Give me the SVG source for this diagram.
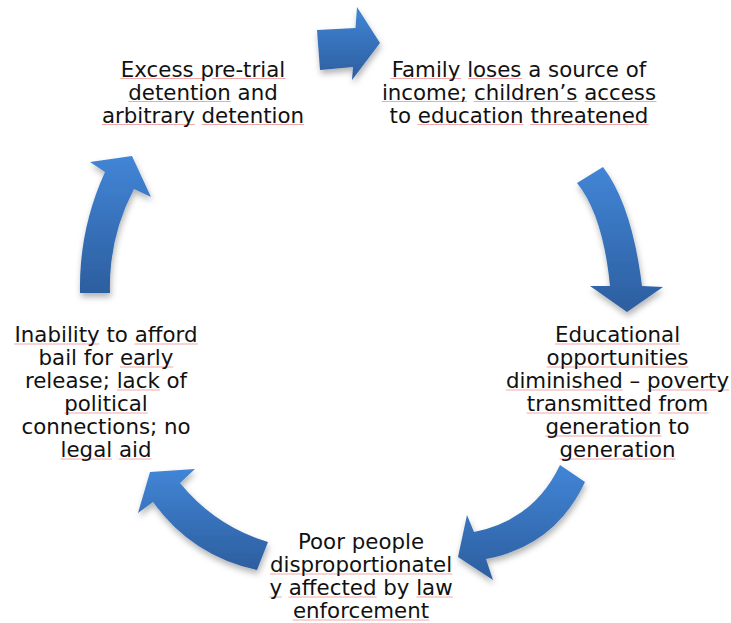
<svg xmlns="http://www.w3.org/2000/svg" width="731" height="623" viewBox="0 0 731 623">
<defs>
<linearGradient id="blue" x1="0" y1="0" x2="0" y2="1">
<stop offset="0" stop-color="#4285d6"/>
<stop offset="1" stop-color="#2c5e9f"/>
</linearGradient>
<filter id="sh" x="-30%" y="-30%" width="160%" height="160%">
<feDropShadow dx="1" dy="4" stdDeviation="3" flood-color="#000" flood-opacity="0.3"/>
</filter>
<style>
.arrow{fill:url(#blue);filter:url(#sh)}
.lbl{font-family:"DejaVu Sans",Verdana,sans-serif;font-size:21.33px;fill:#111;text-anchor:middle}
.sp{stroke:#f2a8a8;stroke-width:1;fill:none}
</style>
</defs>
<rect width="731" height="623" fill="#fff"/>
<g id="connectors">
<path class="arrow" d="M317,30 L355.5,28 L357,7 L380,43 L352,80 L353,67 L320,70 Z"/>
<path class="arrow" d="M577,183 L603,167 Q632,205 642,286 L663,287 L627,312 L590,286 L610,286 Q603,215 577,183 Z"/>
<path class="arrow" d="M560,465 L585,482 Q555,546 486,559 L493,580 L458,557 L467,515 L474,532 Q534,520 560,465 Z"/>
<path class="arrow" d="M268,542 L257,570 Q192,556 153,502 L138,513 L150,472 L195,469 L180,483 Q215,526 268,542 Z"/>
<path class="arrow" d="M80,293 Q78.7,229.7 105,172 L90,162 L132,156 L151,197 L134,189 Q108.4,237.8 110,293 Z"/>
</g>
<g id="proofing" class="sp">
<path d="M120.4,78.5H205.3M212.1,78.5H285.6M128.3,101.5H230.8M101.9,124.5H194.8M201.6,124.5H304.1"/>
<path d="M390.5,78.5H461.1M467.9,78.5H522.2M381.7,101.5H467M473.8,101.5H577.8M584.6,101.5H656.5M417.5,124.5H523.4M530.2,124.5H648.7"/>
<path d="M554.9,344H680.1M546.6,367H688.4M505.9,390H622.8M647,390H729.1M526.6,413H651.5M658.3,413H708.4M545.4,436H661.4M559.5,459H675.5"/>
<path d="M269.7,574H452.3M269.2,597H281.8M288.6,597H376.6M416.4,597H452.9M292.7,620H429.3"/>
<path d="M14.2,344H99.4M134.4,344H197.9M119.9,367H173.4M116.9,390H160M64.3,413H147.8M60.5,459H112.1M118.9,459H151.5"/>
</g>
<g id="node-detention">
<text class="lbl" x="203" y="76.5">Excess pre-trial</text>
<text class="lbl" x="203" y="99.5">detention and</text>
<text class="lbl" x="203" y="122.5">arbitrary detention</text>
</g>
<g id="node-family">
<text class="lbl" x="519" y="76.5">Family loses a source of</text>
<text class="lbl" x="519" y="99.5">income; children’s access</text>
<text class="lbl" x="519" y="122.5">to education threatened</text>
</g>
<g id="node-education">
<text class="lbl" x="617.5" y="342">Educational</text>
<text class="lbl" x="617.5" y="365">opportunities</text>
<text class="lbl" x="617.5" y="388">diminished – poverty</text>
<text class="lbl" x="617.5" y="411">transmitted from</text>
<text class="lbl" x="617.5" y="434">generation to</text>
<text class="lbl" x="617.5" y="457">generation</text>
</g>
<g id="node-poor">
<text class="lbl" x="361" y="549">Poor people</text>
<text class="lbl" x="361" y="572">disproportionatel</text>
<text class="lbl" x="361" y="595">y affected by law</text>
<text class="lbl" x="361" y="618">enforcement</text>
</g>
<g id="node-bail">
<text class="lbl" x="106" y="342">Inability to afford</text>
<text class="lbl" x="106" y="365">bail for early</text>
<text class="lbl" x="106" y="388">release; lack of</text>
<text class="lbl" x="106" y="411">political</text>
<text class="lbl" x="106" y="434">connections; no</text>
<text class="lbl" x="106" y="457">legal aid</text>
</g>
</svg>
